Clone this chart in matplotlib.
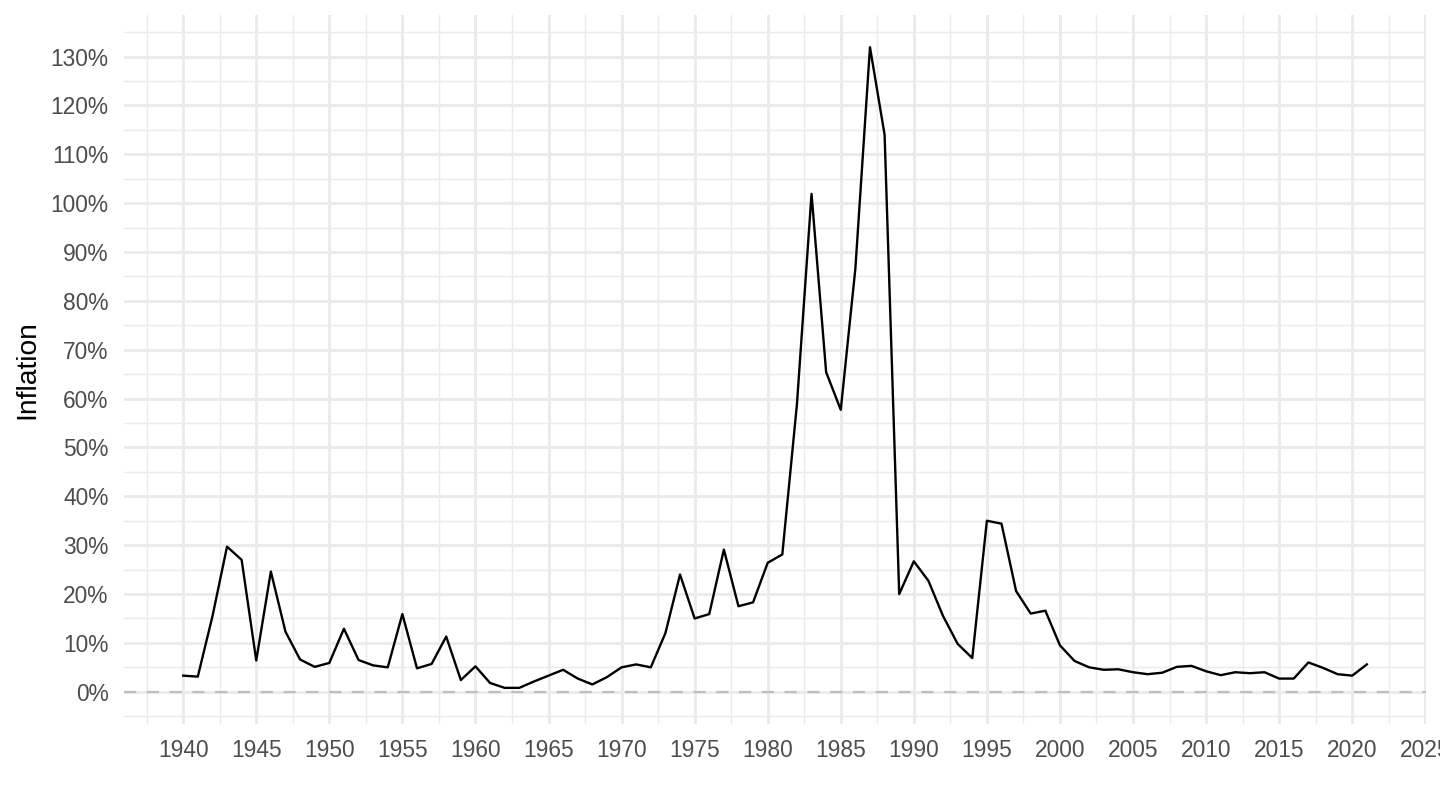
import matplotlib
matplotlib.use("Agg")
import matplotlib.pyplot as plt
from matplotlib.ticker import MultipleLocator, FuncFormatter
import numpy as np

years = list(range(1940, 2022))
inflation = [
    3.3, 3.1, 15.4, 29.7, 27.0, 6.4, 24.6, 12.3, 6.6, 5.1,      # 1940-1949
    5.9, 12.9, 6.5, 5.4, 5.0, 15.9, 4.8, 5.7, 11.3, 2.4,        # 1950-1959
    5.2, 1.8, 0.8, 0.8, 2.1, 3.3, 4.5, 2.7, 1.5, 3.0,           # 1960-1969
    5.0, 5.6, 5.0, 12.0, 24.0, 15.0, 15.9, 29.1, 17.5, 18.3,    # 1970-1979
    26.4, 28.1, 58.8, 101.9, 65.4, 57.7, 86.6, 131.9, 114.0, 20.0,  # 1980-1989
    26.7, 22.7, 15.5, 9.8, 6.9, 35.0, 34.4, 20.6, 16.0, 16.6,   # 1990-1999
    9.5, 6.3, 5.0, 4.5, 4.6, 4.0, 3.6, 3.9, 5.1, 5.3,           # 2000-2009
    4.2, 3.4, 4.0, 3.8, 4.0, 2.7, 2.7, 6.0, 4.9, 3.6,           # 2010-2019
    3.3, 5.6,                                                    # 2020-2021
]
x_ticks = list(range(1940, 2030, 5))
y_ticks = list(range(0, 140, 10))
y_label = "Inflation"

plt.rcParams['font.family'] = ['Liberation Sans', 'DejaVu Sans']

fig = plt.figure(figsize=(14.4, 8.1), dpi=100)
ax = fig.add_axes([124/1440, 1 - 724/810, (1426 - 124)/1440, (724 - 15)/810])

# limits with ggplot-like 5% expansion
xmin, xmax = min(years), max(years)
xr = xmax - xmin
ax.set_xlim(xmin - 0.05 * xr, xmax + 0.05 * xr)
ylo, yhi = min(0, min(inflation)), max(inflation)
yr = yhi - ylo
ax.set_ylim(ylo - 0.05 * yr, yhi + 0.05 * yr)

ax.xaxis.set_major_locator(plt.FixedLocator(x_ticks))
ax.xaxis.set_minor_locator(MultipleLocator(5, offset=2.5))
ax.yaxis.set_major_locator(plt.FixedLocator(y_ticks))
ax.yaxis.set_minor_locator(MultipleLocator(10, offset=5))
ax.yaxis.set_major_formatter(FuncFormatter(lambda v, p: f"{v:.0f}%"))
ax.xaxis.set_major_formatter(FuncFormatter(lambda v, p: f"{v:.0f}"))

ax.grid(which='major', color='#EBEBEB', linewidth=2.1)
ax.grid(which='minor', color='#EBEBEB', linewidth=1.05)
ax.set_axisbelow(True)
for s in ax.spines.values():
    s.set_visible(False)
ax.tick_params(which='both', length=0)
ax.tick_params(axis='both', labelsize=16.4, labelcolor='#4D4D4D', pad=11)
ax.set_facecolor('white')

lw_h = 1.6
ax.axhline(0, color='#BEBEBE', linewidth=lw_h, dashes=(8.8 / lw_h, 7.6 / lw_h), zorder=2)
ax.plot(years, inflation, color='black', linewidth=1.7, zorder=3)

ax.set_ylabel(y_label, fontsize=20.3, color='black', labelpad=7.5)

fig.savefig("out.png", dpi=100, facecolor='white')
